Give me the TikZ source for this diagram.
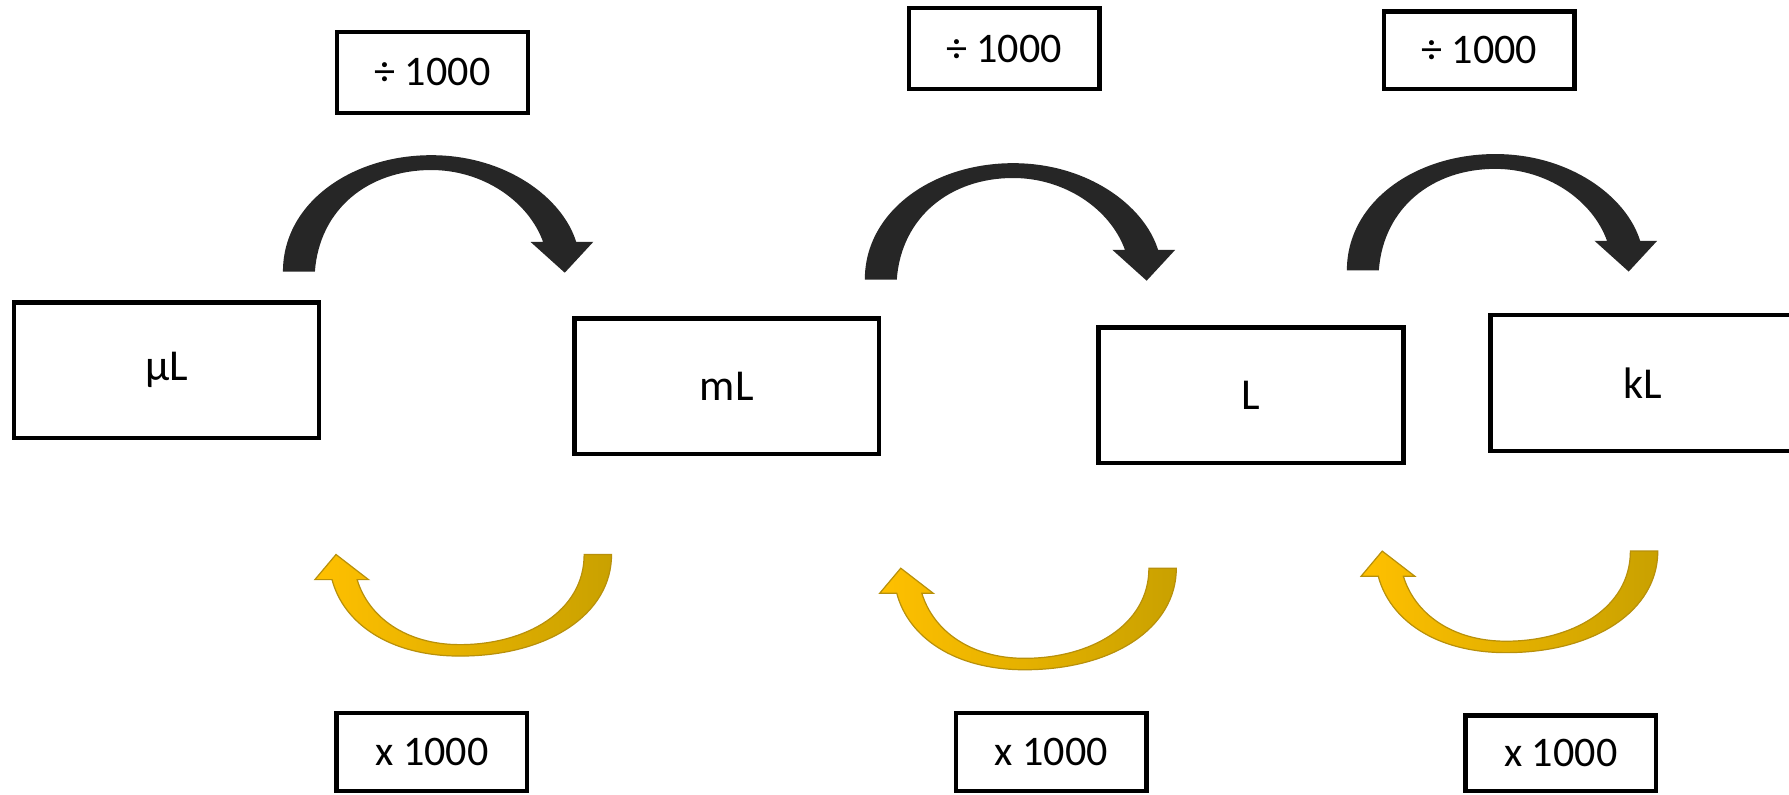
\documentclass[tikz,border=0pt]{standalone}
\usepackage{fontspec}
\setmainfont{Carlito}
\definecolor{arcblack}{HTML}{262626}
\definecolor{goldL}{HTML}{FFC000}
\definecolor{goldR}{HTML}{C9A100}
\definecolor{goldEdge}{HTML}{B8900A}
\tikzset{
  opbox/.style={draw=black, line width=1.1pt, fill=white, minimum width=1.67cm,
    minimum height=0.70cm, inner sep=0pt, font=\fontsize{10.5}{12}\selectfont},
  unitbox/.style={draw=black, line width=1.1pt, fill=white, minimum width=2.67cm,
    minimum height=1.19cm, inner sep=0pt, font=\fontsize{11}{13}\selectfont},
  blackarc/.pic={
    \fill[arcblack] (0,0) .. controls (0,-60) and (60,-102) .. (130,-102)
      .. controls (195,-102) and (245,-65) .. (257,-26)
      -- (272,-26) -- (247,1) -- (217,-26) -- (228,-26)
      .. controls (215,-62) and (175,-89) .. (130,-89)
      .. controls (75,-89) and (32,-55) .. (28,0) -- cycle;
  },
  goldarc/.pic={
    \shade[left color=goldL, right color=goldR, draw=goldEdge, line width=0.3pt]
      (0,0) .. controls (0,52) and (-55,89) .. (-133,89)
      .. controls (-195,89) and (-235,60) .. (-245,22)
      -- (-260,22) -- (-241.5,0) -- (-213,22) -- (-223,22)
      .. controls (-213,55) and (-180,79) .. (-133,79)
      .. controls (-75,79) and (-24,50) .. (-24,0) -- cycle;
  }
}
\begin{document}
\begin{tikzpicture}[x=0.01cm, y=-0.01cm]
  \useasboundingbox (0,0) rectangle (1568,696);
  \fill[white] (0,0) rectangle (1568,696);

  % division boxes
  \node[opbox, minimum height=0.71cm] (d1) at (379,63.5) {÷ 1000};
  \node[opbox, minimum height=0.71cm] (d2) at (880,42.5) {÷ 1000};
  \node[opbox, minimum height=0.68cm] (d3) at (1296.5,44) {÷ 1000};

  % black arrows
  \pic at (248,238) {blackarc};
  \pic at (758,245) {blackarc};
  \pic at (1180.5,237) {blackarc};

  % unit boxes
  \node[unitbox] (ul) at (146,324.5) {µL};
  \node[unitbox] (ml) at (637,338.5) {mL};
  \node[unitbox] (l) at (1096.5,346.5) {L};
  \node[unitbox] (kl) at (1440,335.5) {kL};

  % gold arrows
  \pic at (536,486) {goldarc};
  \pic at (1031,498) {goldarc};
  \pic at (1453,483) {goldarc};

  % multiplication boxes
  \node[opbox, minimum height=0.68cm] (m1) at (378.5,659) {x 1000};
  \node[opbox, minimum height=0.68cm] (m2) at (921.5,659) {x 1000};
  \node[opbox, minimum height=0.66cm] (m3) at (1368,660) {x 1000};
\end{tikzpicture}
\end{document}
